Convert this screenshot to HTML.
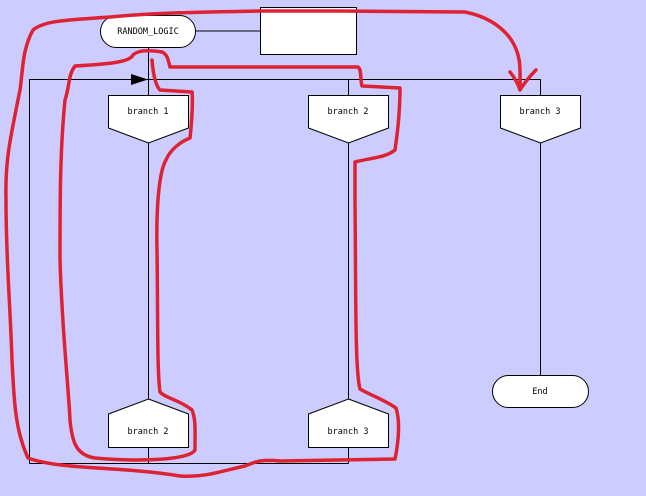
<!DOCTYPE html>
<html><head><meta charset="utf-8"><style>
html,body{margin:0;padding:0;background:#ccccff;}
svg{display:block;}
text{font-family:"DejaVu Sans Mono","Liberation Mono",monospace;font-size:8.5px;fill:#000;}
</style></head><body>
<svg width="646" height="496" viewBox="0 0 646 496" xmlns="http://www.w3.org/2000/svg">
<rect width="646" height="496" fill="#ccccff"/>
<g stroke="#000" stroke-width="1" fill="none">
<line x1="196" y1="31" x2="260" y2="31"/>
<line x1="148.5" y1="47" x2="148.5" y2="95"/>
<polyline points="29.5,463.5 29.5,79.5 540.5,79.5 540.5,95"/>
<line x1="348.5" y1="79.5" x2="348.5" y2="95"/>
<line x1="148.5" y1="143" x2="148.5" y2="399"/>
<line x1="348.5" y1="143" x2="348.5" y2="399"/>
<line x1="540.5" y1="143" x2="540.5" y2="375"/>
<line x1="148.5" y1="447" x2="148.5" y2="463.5"/>
<line x1="348.5" y1="447" x2="348.5" y2="463.5"/>
<line x1="29.5" y1="463.5" x2="348.5" y2="463.5"/>
</g>
<polygon points="131,74 148,79.5 131,85" fill="#000"/>
<g fill="#fff" stroke="#000" stroke-width="1">
<rect x="100.5" y="15.5" width="95" height="32" rx="16"/>
<rect x="260.5" y="7.5" width="96" height="47"/>
<polygon points="108.5,95.5 188.5,95.5 188.5,128 148.5,143 108.5,128"/>
<polygon points="308.5,95.5 388.5,95.5 388.5,128 348.5,143 308.5,128"/>
<polygon points="500.5,95.5 580.5,95.5 580.5,128 540.5,143 500.5,128"/>
<polygon points="148.5,399 188.5,414 188.5,447.5 108.5,447.5 108.5,414"/>
<polygon points="348.5,399 388.5,414 388.5,447.5 308.5,447.5 308.5,414"/>
<rect x="492.5" y="375.5" width="96" height="32" rx="16"/>
</g>
<text x="148" y="34" text-anchor="middle">RANDOM_LOGIC</text>
<text x="148" y="114" text-anchor="middle">branch 1</text>
<text x="348" y="114" text-anchor="middle">branch 2</text>
<text x="540" y="114" text-anchor="middle">branch 3</text>
<text x="148" y="434" text-anchor="middle">branch 2</text>
<text x="348" y="434" text-anchor="middle">branch 3</text>
<text x="540" y="394" text-anchor="middle">End</text>
<g stroke="#dd2233" stroke-width="3.5" fill="none" stroke-linecap="round" stroke-linejoin="round">
<path d="M520,88 C520,70 522,55 510,38 C500,25 485,16 465,12 L340,11 L260,11 C200,12 150,13 110,17 C70,20 45,20 33,30 C22,50 23,70 20,90 C10,140 5,160 6,200 C6,260 10,300 12,360 C14,400 15,430 28,458 C60,470 120,466 180,476 C205,478 225,470 245,466 C255,462 260,459 280,461 L395,459 C399,440 400,420 396,408 C385,400 370,395 360,389 C355,370 356,300 355,200 L355,162 C370,158 385,158 395,150 C398,130 400,110 400,88 L362,86 C360,80 362,70 358,67 L170,67 C168,60 168,55 162,52 C150,50 138,50 133,55 C130,62 110,64 75,66 C68,75 70,85 65,100 C60,150 60,200 60,260 C62,330 68,380 70,420 C72,440 75,455 95,458 C140,462 190,460 195,450 C195,430 196,420 192,410 C180,400 165,398 160,392 C157,370 158,320 157,250 C156,200 160,170 166,160 C170,150 180,142 190,138 C192,120 193,100 192,92 L160,90 C155,85 153,72 152,60"/>
<path d="M510,72 C515,78 518,84 520,90 C525,82 530,76 536,70"/>
</g>
</svg>
</body></html>
